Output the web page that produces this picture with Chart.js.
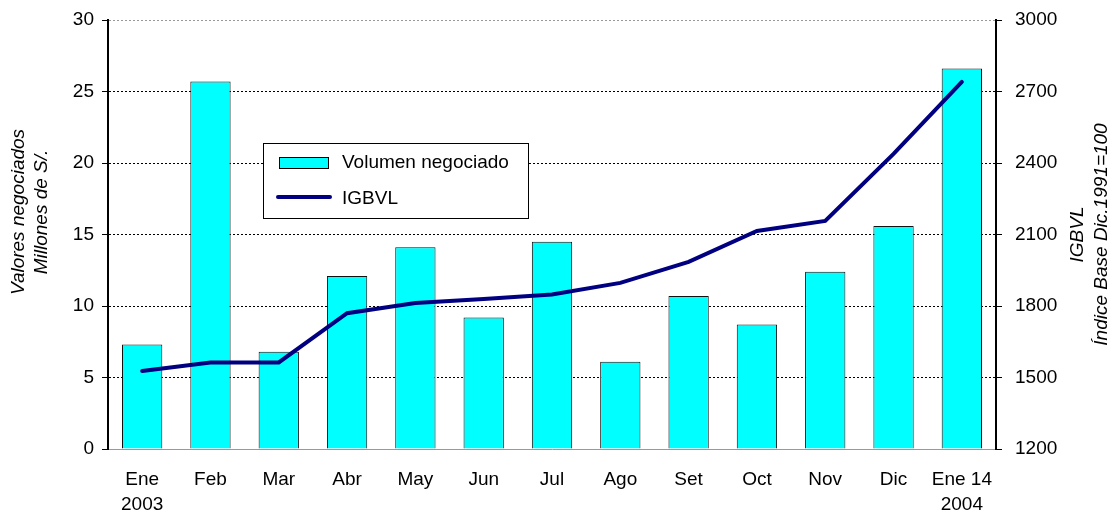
<!DOCTYPE html>
<html>
<head>
<meta charset="utf-8">
<script src="https://cdn.jsdelivr.net/npm/chart.js@4.4.1/dist/chart.umd.min.js"></script>
<style>
  html, body { margin: 0; padding: 0; background: #fff; }
  #wrap { width: 1120px; height: 515px; position: relative; }
</style>
</head>
<body>
<div id="wrap"><canvas id="igbvlChart"></canvas></div>
<script>
const months = [['Ene', '2003'], 'Feb', 'Mar', 'Abr', 'May', 'Jun', 'Jul', 'Ago', 'Set', 'Oct', 'Nov', 'Dic', ['Ene 14', '2004']];
const volumen = [7.3, 25.7, 6.8, 12.1, 14.1, 9.2, 14.5, 6.1, 10.7, 8.7, 12.4, 15.6, 26.6];
const igbvl = [1527, 1563, 1563, 1770, 1813, 1829, 1848, 1897, 1985, 2115, 2157, 2438, 2740];
const leftTicks = [0, 5, 10, 15, 20, 25, 30];
const rightTicks = [1200, 1500, 1800, 2100, 2400, 2700, 3000];
const leftTitle = ['Valores negociados', 'Millones de S/.'];
const rightTitle = ['IGBVL', 'Índice Base Dic.1991=100'];

const FONT = '"Liberation Sans", Arial, sans-serif';
Chart.defaults.font.family = FONT;
Chart.defaults.font.size = 19;
Chart.defaults.color = '#000';

// legend box inside the plot + rotated axis titles (both read bottom to top)
const extras = {
    id: 'extras',
    afterDraw(chart) {
        const c = chart.ctx;
        const a = chart.chartArea;
        c.save();
        c.font = 'italic 19px ' + FONT;
        c.fillStyle = '#000';
        c.textAlign = 'center';
        c.textBaseline = 'middle';
        const drawTitle = (lines, x0, gap, cy) => {
            lines.forEach((t, i) => {
                c.save();
                c.translate(x0 + i * gap, cy);
                c.rotate(-Math.PI / 2);
                c.fillText(t, 0, 0);
                c.restore();
            });
        };
        drawTitle(leftTitle, 19, 23, 212);
        drawTitle(rightTitle, 1078, 24, (a.top + a.bottom) / 2);

        const x = 263, y = 143, w = 265, h = 75;
        c.fillStyle = '#fff';
        c.fillRect(x, y, w, h);
        c.strokeStyle = '#000';
        c.lineWidth = 1;
        c.strokeRect(x + 0.5, y + 0.5, w, h);
        const ds0 = chart.data.datasets[0], ds1 = chart.data.datasets[1];
        c.fillStyle = ds0.backgroundColor;
        c.fillRect(x + 16, y + 14, 49, 11);
        c.strokeRect(x + 16.5, y + 14.5, 49, 11);
        c.strokeStyle = ds1.borderColor;
        c.lineWidth = 4;
        c.lineCap = 'round';
        c.beginPath();
        c.moveTo(x + 15, y + 54);
        c.lineTo(x + 67, y + 54);
        c.stroke();
        c.fillStyle = '#000';
        c.font = '19px ' + FONT;
        c.textAlign = 'left';
        c.fillText(ds0.label, x + 79, y + 20);
        c.fillText(ds1.label, x + 79, y + 56);
        c.restore();
    }
};

// fixed axis widths, and no extra room reserved for the top/bottom tick labels
const fitSide = w => s => { s.width = w; s.paddingTop = 0; s.paddingBottom = 0; };

const ctx = document.getElementById('igbvlChart').getContext('2d');
const chart = new Chart(ctx, {
    data: {
        labels: months,
        datasets: [{
            type: 'bar',
            label: 'Volumen negociado',
            data: volumen,
            yAxisID: 'y',
            backgroundColor: '#00FFFF',
            borderColor: '#111',
            borderWidth: 1,
            barPercentage: 0.59,
            categoryPercentage: 1.0,
            order: 2
        }, {
            type: 'line',
            label: 'IGBVL',
            data: igbvl,
            yAxisID: 'y1',
            borderColor: '#000080',
            borderWidth: 4,
            borderCapStyle: 'round',
            pointRadius: 0,
            tension: 0,
            order: 1
        }]
    },
    options: {
        responsive: true,
        maintainAspectRatio: false,
        animation: false,
        layout: { padding: { top: 20, right: 0, left: 0, bottom: 0 } },
        plugins: {
            legend: { display: false },
            tooltip: { enabled: false }
        },
        scales: {
            x: {
                grid: { display: false },
                border: { color: '#999', width: 1 },
                ticks: { padding: 10, maxRotation: 0, font: { lineHeight: 1.32 } },
                afterFit: s => { s.height = 66; }
            },
            y: {
                position: 'left',
                min: 0, max: 30,
                afterBuildTicks: s => { s.ticks = leftTicks.map(v => ({ value: v })); },
                afterFit: fitSide(108),
                border: { color: '#000', width: 2, dash: [2, 2] },
                grid: {
                    color: c => (c.tick && (c.tick.value === 30 || c.tick.value === 0)) ? '#999' : '#000',
                    tickBorderDash: [],
                    tickColor: '#000',
                    tickLength: 6
                },
                ticks: { padding: 8 }
            },
            y1: {
                position: 'right',
                min: 1200, max: 3000,
                afterBuildTicks: s => { s.ticks = rightTicks.map(v => ({ value: v })); },
                afterFit: fitSide(124),
                border: { color: '#000', width: 2 },
                grid: { drawOnChartArea: false, tickColor: '#000', tickLength: 6 },
                ticks: { padding: 13, callback: v => String(v) }
            }
        }
    },
    plugins: [extras]
});
</script>
</body>
</html>
